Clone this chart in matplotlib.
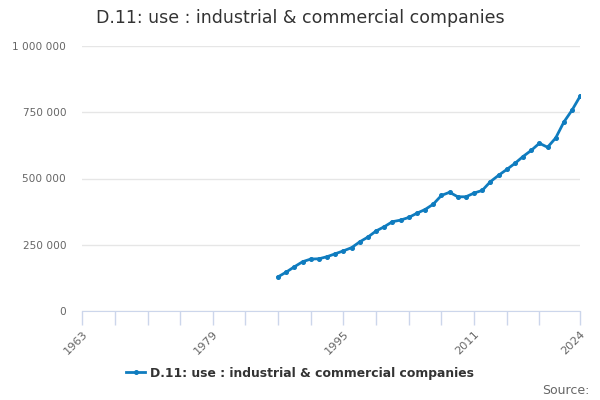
import matplotlib
matplotlib.use("Agg")
import matplotlib.pyplot as plt
from matplotlib.ticker import FuncFormatter, FixedLocator

# Data
years = list(range(1987, 2025))
values = [129000, 147000, 167000, 186000, 196000, 197000, 205000, 216000,
          227000, 239000, 261000, 279000, 302000, 318000, 337000, 343000,
          353000, 369000, 383000, 403000, 436000, 448000, 431000, 431000,
          445000, 455000, 488000, 512000, 534000, 557000, 583000, 606000,
          633000, 618000, 653000, 713000, 758000, 811000]
tick_years = list(range(1963, 2020, 4)) + [2024]
label_years = [1963, 1979, 1995, 2011, 2024]
title = "D.11: use : industrial & commercial companies"

line_color = "#0f7cbf"
axis_color = "#ccd6eb"
grid_color = "#e6e6e6"
text_color = "#666666"

fig = plt.figure(figsize=(6, 4), dpi=100)
ax = fig.add_axes([0.137, 0.2225, 0.83, 0.6625])

ax.plot(years, values, color=line_color, lw=2, marker="o", ms=2.6,
        label=title)

ax.set_xlim(1963, 2024)
ax.set_ylim(0, 1000000)
ax.set_yticks([0, 250000, 500000, 750000, 1000000])
ax.yaxis.set_major_formatter(
    FuncFormatter(lambda v, p: f"{int(v):,}".replace(",", " ")))
ax.grid(axis="y", color=grid_color, lw=1)
ax.set_axisbelow(True)

ax.xaxis.set_major_locator(FixedLocator(tick_years))
ax.set_xticklabels([str(y) if y in label_years else "" for y in tick_years],
                   rotation=45, ha="right", rotation_mode="anchor")

for s in ["top", "right", "left"]:
    ax.spines[s].set_visible(False)
ax.spines["bottom"].set_color(axis_color)
ax.tick_params(axis="x", colors=axis_color, length=10, width=1,
               labelcolor=text_color, labelsize=8.2, pad=3)
ax.tick_params(axis="y", length=0, labelcolor=text_color, labelsize=7.6,
               pad=11.5)

fig.text(0.5, 0.955, title, ha="center", va="center", fontsize=12.5,
         color="#333333")

leg = fig.legend(loc="center", bbox_to_anchor=(0.5, 0.067), frameon=False,
                 prop={"weight": "bold", "size": 8.9}, handlelength=1.5,
                 handletextpad=0.4)
for t in leg.get_texts():
    t.set_color("#333333")

fig.text(0.983, 0.025, "Source:", ha="right", va="center", fontsize=9,
         color=text_color)

fig.savefig("out.png", dpi=100)
